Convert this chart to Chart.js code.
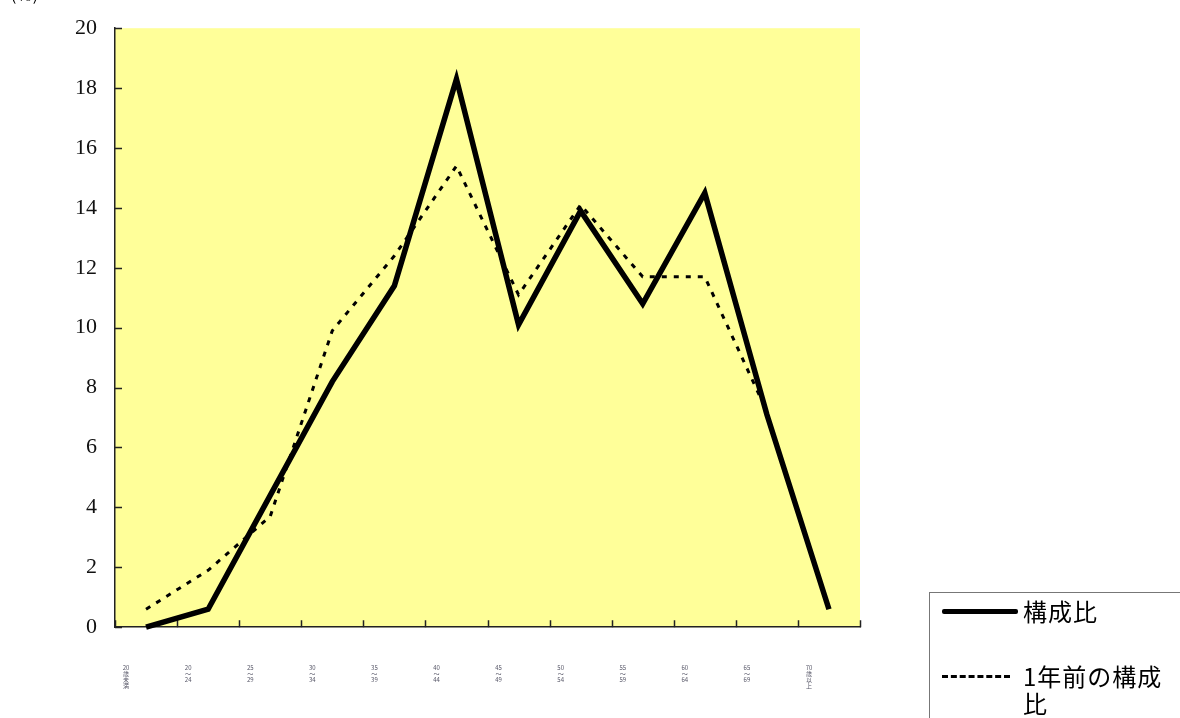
<!DOCTYPE html>
<html>
<head>
<meta charset="utf-8">
<script src="https://cdn.jsdelivr.net/npm/chart.js@4/dist/chart.umd.min.js"></script>
<style>
  body { margin: 0; background: #fff; overflow: hidden; }
  #wrap { position: relative; width: 1180px; height: 718px; overflow: hidden; }
  #myChart { position: absolute; left: 0; top: 0; }
  #legendBox {
    position: absolute; left: 929px; top: 592px; width: 280px; height: 160px;
    border: 1.5px solid #777; box-sizing: border-box;
    font-family: "Noto Sans CJK JP", "Noto Sans", sans-serif; font-size: 24px; color: #000;
  }
  .row { position: absolute; left: 12px; display: flex; align-items: flex-start; }
  .swatch { width: 76px; height: 0; margin-right: 5px; }
  .txt { line-height: 27px; letter-spacing: 1px; width: 150px; }
</style>
</head>
<body>
<div id="wrap">
  <canvas id="myChart" width="1180" height="718"></canvas>
  <div id="legendBox">
    <div class="row" style="top:4px">
      <div class="swatch" style="border-top:5px solid #000; margin-top:12px; border-radius:2px"></div>
      <div class="txt">構成比</div>
    </div>
    <div class="row" style="top:69px">
      <div class="swatch" style="border-top:3px dashed #000; margin-top:13px; width:68px; margin-right:13px"></div>
      <div class="txt">1年前の構成比</div>
    </div>
  </div>
</div>
<script>
// age groups (labels are tiny in the original)
var categories = [
  ['20', '歳', '未', '満'],
  ['20', '～', '24'],
  ['25', '～', '29'],
  ['30', '～', '34'],
  ['35', '～', '39'],
  ['40', '～', '44'],
  ['45', '～', '49'],
  ['50', '～', '54'],
  ['55', '～', '59'],
  ['60', '～', '64'],
  ['65', '～', '69'],
  ['70', '歳', '以', '上']
];
var share = [0.0, 0.6, 4.4, 8.2, 11.4, 18.3, 10.1, 13.9, 10.8, 14.5, 7.1, 0.6];
var prevShare = [0.6, 1.9, 3.7, 9.9, 12.4, 15.4, 11.1, 14.1, 11.7, 11.7, 7.2, null];
var yTicks = [0, 2, 4, 6, 8, 10, 12, 14, 16, 18, 20];
var plotTop = 28, plotBottom = 627;
var xHeight = 91;

// yellow plot background, inward tick marks and the cut-off unit label
var decor = {
  id: 'decor',
  beforeDraw: function(chart) {
    var ctx = chart.ctx, a = chart.chartArea;
    ctx.save();
    ctx.fillStyle = '#ffff99';
    ctx.fillRect(a.left, a.top, a.right - a.left, a.bottom - a.top);
    ctx.fillStyle = '#000';
    ctx.font = '16px "Liberation Serif", serif';
    ctx.textBaseline = 'middle';
    ctx.fillText('（%）', 2, a.top - plotTop - 3);
    ctx.restore();
  },
  beforeDatasetsDraw: function(chart) {
    var ctx = chart.ctx, a = chart.chartArea;
    var x = chart.scales.x, y = chart.scales.y;
    ctx.save();
    ctx.strokeStyle = '#222';
    ctx.lineWidth = 1.5;
    ctx.beginPath();
    yTicks.forEach(function(v) {
      var py = Math.round(y.getPixelForValue(v)) + 0.5;
      ctx.moveTo(a.left, py);
      ctx.lineTo(a.left + 7, py);
    });
    for (var i = 0; i <= categories.length; i++) {
      var px;
      if (i == 0) px = a.left;
      else if (i == categories.length) px = a.right;
      else px = (x.getPixelForValue(i - 1) + x.getPixelForValue(i)) / 2;
      px = Math.round(px) + 0.5;
      ctx.moveTo(px, a.bottom);
      ctx.lineTo(px, a.bottom - 7);
    }
    ctx.stroke();
    ctx.restore();
  }
};

var data = {
  labels: categories,
  datasets: [{
    label: '構成比',
    data: share,
    borderColor: '#000',
    borderWidth: 5.5,
    pointRadius: 0,
    tension: 0,
    clip: false
  }, {
    label: '1年前の構成比',
    data: prevShare,
    borderColor: '#000',
    borderWidth: 3,
    borderDash: [5, 7],
    pointRadius: 0,
    tension: 0,
    clip: false
  }]
};

var config = {
  type: 'line',
  data: data,
  options: {
    responsive: false,
    animation: false,
    layout: { autoPadding: false, padding: { top: plotTop, right: 320, left: 0, bottom: 0 } },
    plugins: { legend: { display: false }, tooltip: { enabled: false } },
    scales: {
      x: {
        offset: true,
        grid: { display: true, drawOnChartArea: false, drawTicks: false },
        border: { display: true, color: '#222', width: 1.5 },
        ticks: {
          padding: 38, maxRotation: 0, autoSkip: false, color: '#556',
          labelOffset: -20,
          font: { size: 6, family: '"Noto Sans CJK JP", sans-serif', lineHeight: 1.0 }
        },
        afterFit: function(scale) { scale.height = xHeight; }
      },
      y: {
        min: 0, max: 20,
        grid: { display: true, drawOnChartArea: false, drawTicks: false },
        border: { display: true, color: '#222', width: 1.5 },
        ticks: {
          stepSize: 2, padding: 18, color: '#111',
          font: { size: 22, family: '"Liberation Serif", serif' }
        },
        afterFit: function(scale) { scale.width = 115; }
      }
    }
  },
  plugins: [decor]
};

var canvas = document.getElementById('myChart');
var myChart = new Chart(canvas, config);

// the layout keeps a few extra pixels above the plot; shift the canvas so the
// plot area sits where the original's does
for (var k = 0; k < 3; k++) {
  var shift = myChart.chartArea.top - plotTop;
  var wantBottom = plotBottom + shift;
  var diff = myChart.chartArea.bottom - wantBottom;
  canvas.style.top = (-shift) + 'px';
  if (Math.abs(diff) < 0.1) break;
  xHeight += diff;
  myChart.update();
}
</script>
</body>
</html>
